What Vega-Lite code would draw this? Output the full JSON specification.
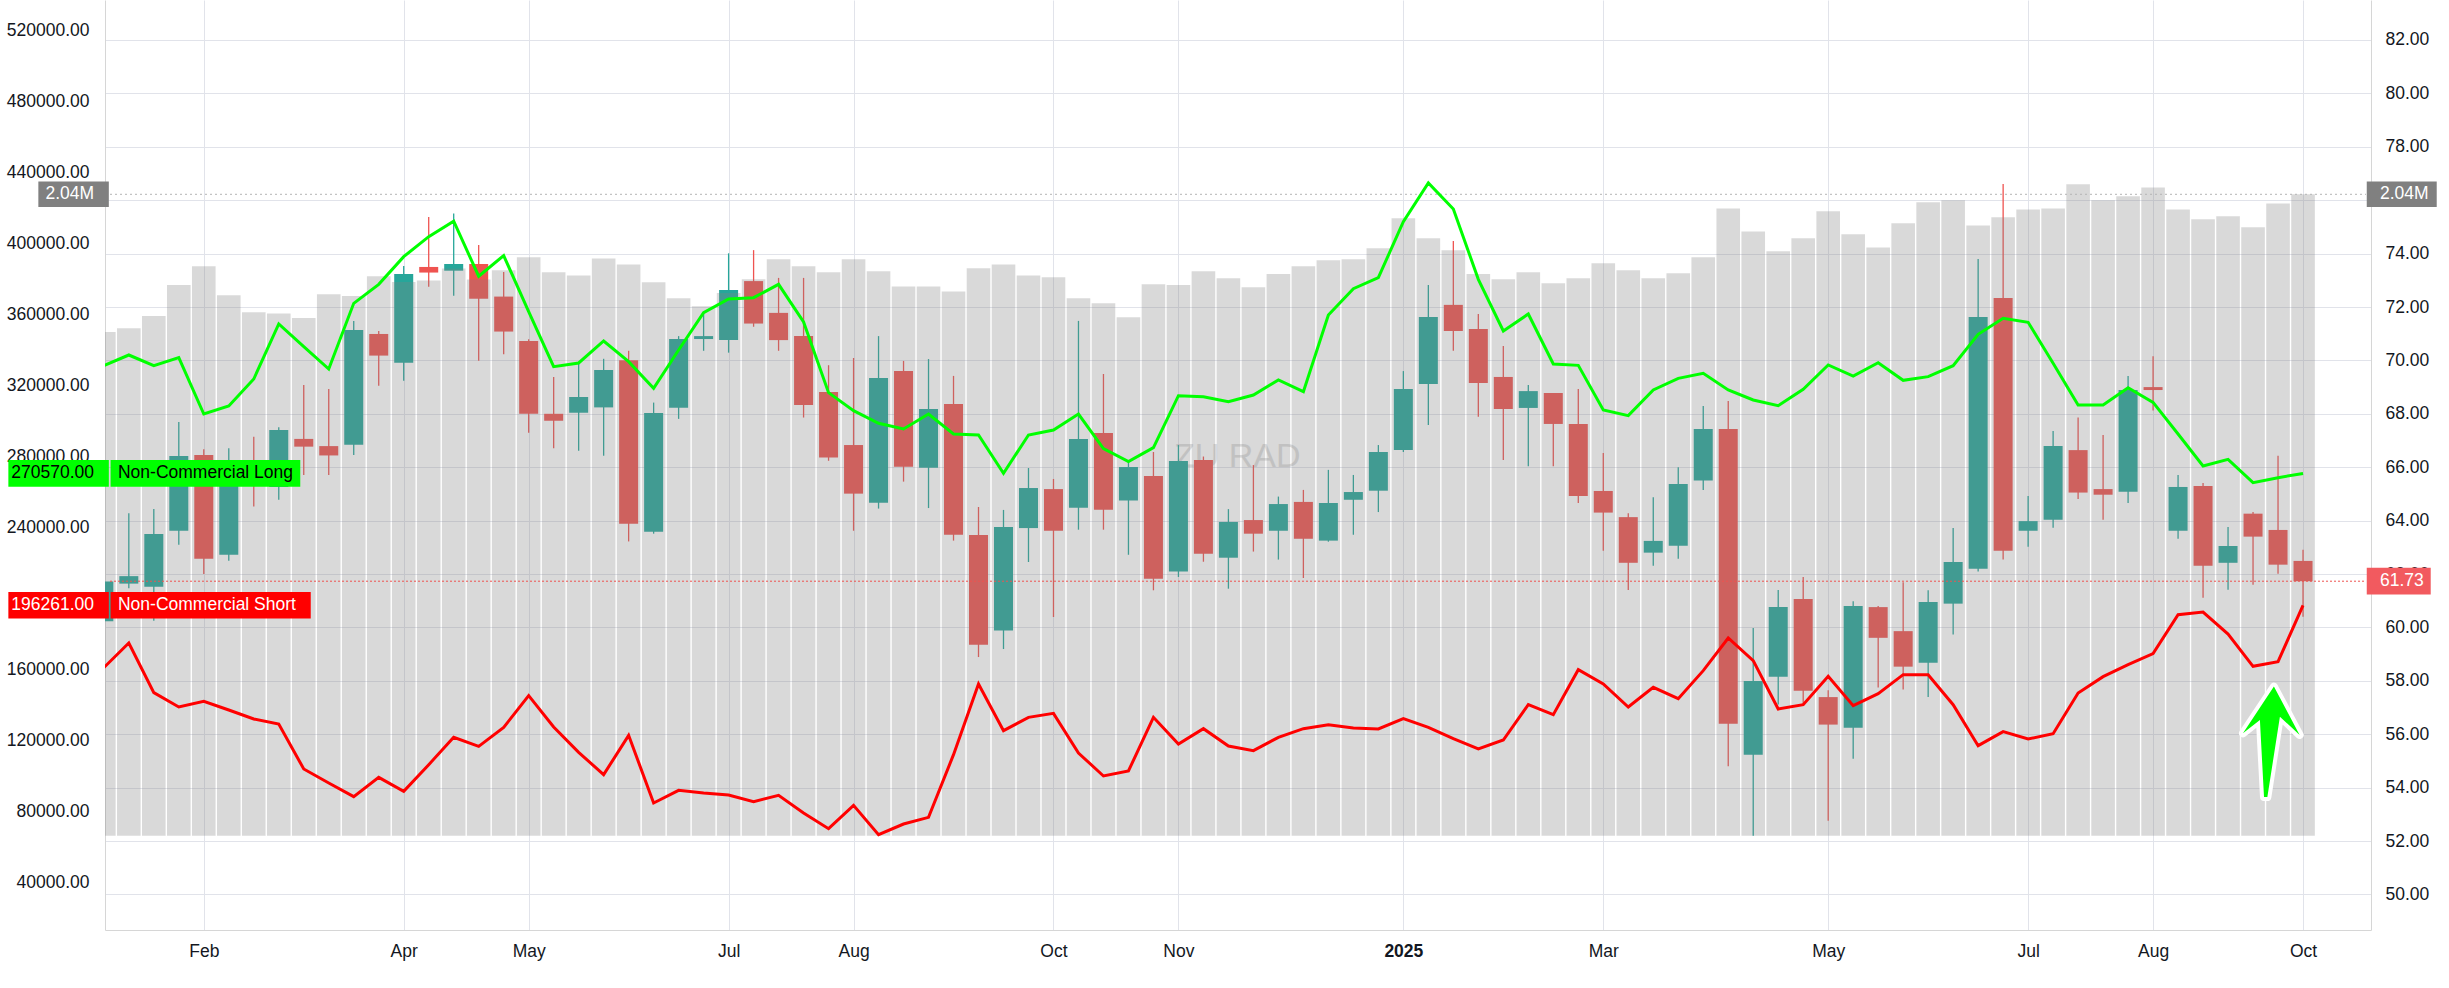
{
  "$schema": "https://vega.github.io/schema/vega-lite/v6.json",
  "width": 2266,
  "height": 930,
  "autosize": {"type": "none"},
  "padding": {"left": 105, "top": 0, "right": 78, "bottom": 58},
  "background": "white",
  "config": {
    "view": {"stroke": null},
    "font": "Liberation Sans",
    "axis": {"labelFont": "Liberation Sans", "labelFontSize": 17.5, "labelColor": "#131722", "ticks": false, "domainColor": "#d6d6d6", "gridColor": "#e1e3ea", "title": null}
  },
  "datasets": {
    "bars": [
      {"i":0,"o":60.23,"h":61.9,"l":60.1,"c":61.72,"oi":1603000,"long":331279,"short":161133},
      {"i":1,"o":61.64,"h":64.28,"l":61.47,"c":61.92,"oi":1615000,"long":337289,"short":175030},
      {"i":2,"o":61.52,"h":64.43,"l":60.25,"c":63.5,"oi":1654000,"long":331279,"short":147048},
      {"i":3,"o":63.62,"h":67.69,"l":63.1,"c":66.42,"oi":1752000,"long":335787,"short":138972},
      {"i":4,"o":66.46,"h":66.67,"l":62.0,"c":62.57,"oi":1812000,"long":304048,"short":142165},
      {"i":5,"o":62.72,"h":66.71,"l":62.5,"c":65.64,"oi":1720000,"long":308556,"short":137282},
      {"i":6,"o":66.0,"h":67.14,"l":64.53,"c":65.6,"oi":1666000,"long":323767,"short":132212},
      {"i":7,"o":65.26,"h":67.5,"l":64.78,"c":67.39,"oi":1662000,"long":354754,"short":129395},
      {"i":8,"o":67.06,"h":69.08,"l":65.71,"c":66.77,"oi":1647000,"long":342066,"short":104041},
      {"i":9,"o":66.79,"h":68.93,"l":65.71,"c":66.44,"oi":1723000,"long":329397,"short":96155},
      {"i":10,"o":66.84,"h":71.48,"l":66.46,"c":71.14,"oi":1717000,"long":366398,"short":88455},
      {"i":11,"o":70.99,"h":71.1,"l":69.05,"c":70.18,"oi":1780000,"long":377102,"short":99349},
      {"i":12,"o":69.91,"h":73.54,"l":69.24,"c":73.24,"oi":1762000,"long":392690,"short":91461},
      {"i":13,"o":73.5,"h":75.37,"l":72.76,"c":73.29,"oi":1767000,"long":403958,"short":106483},
      {"i":14,"o":73.36,"h":75.5,"l":72.42,"c":73.61,"oi":1805000,"long":412657,"short":121883},
      {"i":15,"o":73.61,"h":74.32,"l":69.99,"c":72.31,"oi":1770000,"long":381671,"short":116812},
      {"i":16,"o":72.39,"h":73.31,"l":70.23,"c":71.08,"oi":1799000,"long":393316,"short":127517},
      {"i":17,"o":70.73,"h":70.79,"l":67.29,"c":68.0,"oi":1841000,"long":361703,"short":145358},
      {"i":18,"o":68.0,"h":69.38,"l":66.71,"c":67.74,"oi":1793000,"long":330716,"short":127705},
      {"i":19,"o":68.04,"h":69.91,"l":66.62,"c":68.63,"oi":1783000,"long":332782,"short":113432},
      {"i":20,"o":68.24,"h":70.06,"l":66.43,"c":69.64,"oi":1837000,"long":345177,"short":100849},
      {"i":21,"o":70.01,"h":70.36,"l":63.22,"c":63.88,"oi":1818000,"long":333533,"short":123010},
      {"i":22,"o":63.58,"h":68.42,"l":63.51,"c":68.03,"oi":1761000,"long":318509,"short":84886},
      {"i":23,"o":68.23,"h":70.91,"l":67.81,"c":70.8,"oi":1710000,"long":340106,"short":92023},
      {"i":24,"o":70.8,"h":71.76,"l":70.36,"c":70.91,"oi":1685000,"long":361140,"short":90520},
      {"i":25,"o":70.76,"h":74.01,"l":70.29,"c":72.64,"oi":1727000,"long":368840,"short":89394},
      {"i":26,"o":72.97,"h":74.13,"l":71.26,"c":71.38,"oi":1771000,"long":369589,"short":85638},
      {"i":27,"o":71.78,"h":73.09,"l":70.36,"c":70.76,"oi":1834000,"long":377102,"short":89206},
      {"i":28,"o":70.91,"h":73.09,"l":67.86,"c":68.33,"oi":1812000,"long":355881,"short":79252},
      {"i":29,"o":68.82,"h":69.82,"l":66.24,"c":66.36,"oi":1793000,"long":316068,"short":70426},
      {"i":30,"o":66.83,"h":70.09,"l":63.62,"c":65.01,"oi":1834000,"long":305927,"short":83572},
      {"i":31,"o":64.67,"h":70.91,"l":64.45,"c":69.34,"oi":1796000,"long":298790,"short":67045},
      {"i":32,"o":69.6,"h":69.98,"l":65.46,"c":66.02,"oi":1748000,"long":295598,"short":73055},
      {"i":33,"o":65.98,"h":70.05,"l":64.47,"c":68.18,"oi":1748000,"long":304048,"short":76811},
      {"i":34,"o":68.37,"h":69.42,"l":63.25,"c":63.47,"oi":1732000,"long":292780,"short":112117},
      {"i":35,"o":63.46,"h":64.51,"l":58.89,"c":59.35,"oi":1806000,"long":292217,"short":151931},
      {"i":36,"o":59.88,"h":64.4,"l":59.19,"c":63.76,"oi":1818000,"long":270620,"short":125639},
      {"i":37,"o":63.72,"h":65.97,"l":62.45,"c":65.22,"oi":1783000,"long":292217,"short":133151},
      {"i":38,"o":65.18,"h":65.56,"l":60.39,"c":63.62,"oi":1777000,"long":295034,"short":135404},
      {"i":39,"o":64.48,"h":71.48,"l":63.66,"c":67.06,"oi":1710000,"long":304048,"short":113056},
      {"i":40,"o":67.28,"h":69.49,"l":63.66,"c":64.41,"oi":1694000,"long":284517,"short":100098},
      {"i":41,"o":64.75,"h":66.27,"l":62.72,"c":66.01,"oi":1650000,"long":277193,"short":102915},
      {"i":42,"o":65.67,"h":66.57,"l":61.39,"c":61.82,"oi":1755000,"long":285080,"short":133151},
      {"i":43,"o":62.09,"h":66.83,"l":61.89,"c":66.23,"oi":1752000,"long":314377,"short":118127},
      {"i":44,"o":66.27,"h":66.4,"l":62.46,"c":62.76,"oi":1796000,"long":313814,"short":126766},
      {"i":45,"o":62.61,"h":64.43,"l":61.45,"c":63.95,"oi":1774000,"long":310997,"short":117000},
      {"i":46,"o":64.02,"h":66.08,"l":62.84,"c":63.51,"oi":1745000,"long":314753,"short":114371},
      {"i":47,"o":63.62,"h":64.9,"l":62.54,"c":64.62,"oi":1787000,"long":323204,"short":121883},
      {"i":48,"o":64.7,"h":65.15,"l":61.85,"c":63.32,"oi":1812000,"long":316631,"short":126766},
      {"i":49,"o":63.25,"h":65.9,"l":63.21,"c":64.66,"oi":1831000,"long":359825,"short":129019},
      {"i":50,"o":64.78,"h":65.71,"l":63.47,"c":65.07,"oi":1834000,"long":374661,"short":127141},
      {"i":51,"o":65.12,"h":66.83,"l":64.32,"c":66.57,"oi":1869000,"long":380858,"short":126578},
      {"i":52,"o":66.64,"h":69.6,"l":66.57,"c":68.93,"oi":1965000,"long":412409,"short":132400},
      {"i":53,"o":69.12,"h":72.82,"l":67.58,"c":71.63,"oi":1901000,"long":434194,"short":127517},
      {"i":54,"o":72.08,"h":74.47,"l":70.36,"c":71.1,"oi":1863000,"long":419546,"short":121132},
      {"i":55,"o":71.18,"h":71.74,"l":67.89,"c":69.15,"oi":1787000,"long":379920,"short":115310},
      {"i":56,"o":69.38,"h":70.54,"l":66.27,"c":68.18,"oi":1771000,"long":350811,"short":120381},
      {"i":57,"o":68.22,"h":69.08,"l":66.04,"c":68.85,"oi":1793000,"long":360389,"short":140287},
      {"i":58,"o":68.78,"h":68.78,"l":66.04,"c":67.62,"oi":1758000,"long":332218,"short":134653},
      {"i":59,"o":67.62,"h":68.93,"l":64.66,"c":64.92,"oi":1774000,"long":331467,"short":160006},
      {"i":60,"o":65.11,"h":66.53,"l":62.87,"c":64.3,"oi":1822000,"long":306302,"short":151931},
      {"i":61,"o":64.13,"h":64.28,"l":61.4,"c":62.42,"oi":1799000,"long":303110,"short":138972},
      {"i":62,"o":62.8,"h":64.87,"l":62.31,"c":63.24,"oi":1774000,"long":317570,"short":150052},
      {"i":63,"o":63.06,"h":66.0,"l":62.57,"c":65.37,"oi":1790000,"long":324143,"short":143667},
      {"i":64,"o":65.5,"h":68.29,"l":65.15,"c":67.43,"oi":1841000,"long":326960,"short":159442},
      {"i":65,"o":67.43,"h":68.48,"l":54.8,"c":56.39,"oi":1996000,"long":317570,"short":177847},
      {"i":66,"o":55.23,"h":59.98,"l":52.2,"c":57.99,"oi":1923000,"long":311936,"short":165076},
      {"i":67,"o":58.15,"h":61.4,"l":57.11,"c":60.76,"oi":1860000,"long":308743,"short":137845},
      {"i":68,"o":61.06,"h":61.89,"l":57.11,"c":57.63,"oi":1901000,"long":317946,"short":140287},
      {"i":69,"o":57.39,"h":57.65,"l":52.76,"c":56.36,"oi":1987000,"long":331655,"short":156250},
      {"i":70,"o":56.24,"h":60.98,"l":55.08,"c":60.8,"oi":1914000,"long":325458,"short":139723},
      {"i":71,"o":60.76,"h":60.8,"l":57.75,"c":59.61,"oi":1872000,"long":332970,"short":146483},
      {"i":72,"o":59.86,"h":61.69,"l":57.67,"c":58.53,"oi":1949000,"long":323016,"short":157189},
      {"i":73,"o":58.68,"h":61.39,"l":57.39,"c":60.95,"oi":2016000,"long":325082,"short":157189},
      {"i":74,"o":60.89,"h":63.72,"l":59.73,"c":62.45,"oi":2022000,"long":331279,"short":140287},
      {"i":75,"o":62.2,"h":73.8,"l":62.09,"c":71.63,"oi":1942000,"long":348933,"short":117188},
      {"i":76,"o":72.34,"h":76.61,"l":62.54,"c":62.87,"oi":1968000,"long":357947,"short":125075},
      {"i":77,"o":63.62,"h":64.92,"l":63.02,"c":63.98,"oi":1993000,"long":355694,"short":120944},
      {"i":78,"o":64.03,"h":67.36,"l":63.73,"c":66.79,"oi":1996000,"long":332594,"short":123948},
      {"i":79,"o":66.64,"h":67.86,"l":64.81,"c":65.05,"oi":2073000,"long":309121,"short":146860},
      {"i":80,"o":65.18,"h":67.21,"l":64.03,"c":64.97,"oi":2022000,"long":309121,"short":156062},
      {"i":81,"o":65.08,"h":69.42,"l":64.66,"c":68.89,"oi":2035000,"long":318886,"short":162823},
      {"i":82,"o":69.0,"h":70.16,"l":68.12,"c":68.89,"oi":2063000,"long":310622,"short":169020},
      {"i":83,"o":63.62,"h":65.71,"l":63.32,"c":65.26,"oi":1993000,"long":292780,"short":190993},
      {"i":84,"o":65.3,"h":65.41,"l":61.11,"c":62.31,"oi":1962000,"long":274752,"short":192495},
      {"i":85,"o":62.42,"h":63.76,"l":61.41,"c":63.05,"oi":1971000,"long":278508,"short":180100},
      {"i":86,"o":64.26,"h":64.32,"l":61.6,"c":63.4,"oi":1936000,"long":265362,"short":161884},
      {"i":87,"o":63.65,"h":66.43,"l":62.01,"c":62.35,"oi":2012000,"long":268179,"short":164514},
      {"i":88,"o":62.49,"h":62.91,"l":60.4,"c":61.73,"oi":2041000,"long":270570,"short":196261}
    ]
  },
  "data": {"name": "bars"},
  "encoding": {
    "x": {
      "field": "i",
      "type": "quantitative",
      "scale": {"domain": [0.247, 90.52], "nice": false, "zero": false},
      "axis": {
        "values": [4, 12, 17, 25, 30, 38, 43, 52, 60, 69, 77, 82, 88],
        "labelExpr": "['Feb','Apr','May','Jul','Aug','Oct','Nov','2025','Mar','May','Jul','Aug','Oct'][indexof([4,12,17,25,30,38,43,52,60,69,77,82,88], datum.value)]",
        "grid": true,
        "labelPadding": 12,
        "labelFlush": false,
        "labelOverlap": false,
        "labelFontWeight": {"condition": {"test": "datum.value == 52", "value": "bold"}, "value": "normal"}
      }
    }
  },
  "layer": [
    {
      "transform": [{"filter": "datum.i == 88"}],
      "mark": {"type": "text", "text": "ZU RAD", "fontSize": 34, "color": "#a0a0a0", "opacity": 0.35, "align": "center", "baseline": "middle"},
      "encoding": {
        "x": {"datum": 45.35, "type": "quantitative"},
        "y": {"datum": 66.38, "type": "quantitative", "scale": {"domain": [48.667, 83.498], "nice": false, "zero": false}, "axis": null}
      }
    },
    {
      "mark": {"type": "rule", "strokeWidth": 1.3, "clip": true},
      "encoding": {
        "y": {"field": "l", "type": "quantitative", "scale": {"domain": [48.667, 83.498], "nice": false, "zero": false},
          "axis": {"orient": "right", "values": [50,52,54,56,58,60,62,64,66,68,70,72,74,76,78,80,82], "format": ".2f", "labelExpr": "datum.value == 76 ? '' : datum.label", "grid": true, "labelPadding": 14}},
        "y2": {"field": "h"},
        "color": {"condition": {"test": "datum.c >= datum.o", "value": "#26a69a"}, "value": "#ef5350"}
      }
    },
    {
      "mark": {"type": "bar", "width": 19, "clip": true},
      "encoding": {
        "y": {"field": "o", "type": "quantitative", "scale": {"domain": [48.667, 83.498], "nice": false, "zero": false}, "axis": null},
        "y2": {"field": "c"},
        "color": {"condition": {"test": "datum.c >= datum.o", "value": "#26a69a"}, "value": "#ef5350"}
      }
    },
    {
      "mark": {"type": "bar", "width": 23.6, "clip": true, "color": "#808080", "opacity": 0.3},
      "encoding": {
        "y": {"field": "oi", "type": "quantitative", "scale": {"domain": [-300070, 2659293], "nice": false, "zero": false}, "axis": null},
        "y2": {"datum": 0}
      }
    },
    {
      "transform": [{"filter": "datum.i == 88"}],
      "mark": {"type": "rule", "color": "#b5b5b5", "strokeDash": [2, 3], "strokeWidth": 1},
      "encoding": {
        "x": {"datum": 0.247, "type": "quantitative"},
        "x2": {"datum": 90.52},
        "y": {"field": "oi", "type": "quantitative", "scale": {"domain": [-300070, 2659293], "nice": false, "zero": false}, "axis": null}
      }
    },
    {
      "transform": [{"filter": "datum.i == 88"}],
      "mark": {"type": "rule", "color": "#ef5350", "strokeDash": [2, 2], "strokeWidth": 1},
      "encoding": {
        "x": {"datum": 0.247, "type": "quantitative"},
        "x2": {"datum": 90.52},
        "y": {"field": "c", "type": "quantitative", "scale": {"domain": [48.667, 83.498], "nice": false, "zero": false}, "axis": null}
      }
    },
    {
      "mark": {"type": "line", "color": "#00ff00", "strokeWidth": 3, "clip": true},
      "encoding": {
        "y": {"field": "long", "type": "quantitative", "scale": {"domain": [13334, 537296], "nice": false, "zero": false},
          "axis": {"orient": "left", "values": [40000,80000,120000,160000,240000,280000,320000,360000,400000,440000,480000,520000], "format": ".2f", "grid": false, "labelPadding": 16}}
      }
    },
    {
      "mark": {"type": "line", "color": "#ff0000", "strokeWidth": 3, "clip": true},
      "encoding": {
        "y": {"field": "short", "type": "quantitative", "scale": {"domain": [13334, 537296], "nice": false, "zero": false}, "axis": null}
      }
    },
    {
      "transform": [{"filter": "datum.i == 88"}],
      "layer": [
        {
          "mark": {"type": "rule", "color": "#00ff00", "strokeWidth": 26.7},
          "encoding": {"x": {"datum": -3.82, "type": "quantitative"}, "x2": {"datum": 0.2},
            "y": {"field": "long", "type": "quantitative", "scale": {"domain": [13334, 537296], "nice": false, "zero": false}, "axis": null}}
        },
        {
          "mark": {"type": "rule", "color": "#00ff00", "strokeWidth": 26.7},
          "encoding": {"x": {"datum": 0.27, "type": "quantitative"}, "x2": {"datum": 7.86},
            "y": {"field": "long", "type": "quantitative", "scale": {"domain": [13334, 537296], "nice": false, "zero": false}, "axis": null}}
        },
        {
          "mark": {"type": "rule", "color": "#ff0000", "strokeWidth": 26.4},
          "encoding": {"x": {"datum": -3.82, "type": "quantitative"}, "x2": {"datum": 0.2},
            "y": {"field": "short", "type": "quantitative", "scale": {"domain": [13334, 537296], "nice": false, "zero": false}, "axis": null}}
        },
        {
          "mark": {"type": "rule", "color": "#ff0000", "strokeWidth": 26.4},
          "encoding": {"x": {"datum": 0.27, "type": "quantitative"}, "x2": {"datum": 8.28},
            "y": {"field": "short", "type": "quantitative", "scale": {"domain": [13334, 537296], "nice": false, "zero": false}, "axis": null}}
        },
        {
          "mark": {"type": "text", "align": "right", "baseline": "middle", "fontSize": 17.5, "color": "#000000"},
          "encoding": {"x": {"datum": -0.39, "type": "quantitative"}, "text": {"field": "long", "format": ".2f"},
            "y": {"field": "long", "type": "quantitative", "scale": {"domain": [13334, 537296], "nice": false, "zero": false}, "axis": null}}
        },
        {
          "mark": {"type": "text", "align": "left", "baseline": "middle", "fontSize": 17.5, "color": "#000000", "text": "Non-Commercial Long"},
          "encoding": {"x": {"datum": 0.566, "type": "quantitative"},
            "y": {"field": "long", "type": "quantitative", "scale": {"domain": [13334, 537296], "nice": false, "zero": false}, "axis": null}}
        },
        {
          "mark": {"type": "text", "align": "right", "baseline": "middle", "fontSize": 17.5, "color": "#ffffff"},
          "encoding": {"x": {"datum": -0.39, "type": "quantitative"}, "text": {"field": "short", "format": ".2f"},
            "y": {"field": "short", "type": "quantitative", "scale": {"domain": [13334, 537296], "nice": false, "zero": false}, "axis": null}}
        },
        {
          "mark": {"type": "text", "align": "left", "baseline": "middle", "fontSize": 17.5, "color": "#ffffff", "text": "Non-Commercial Short"},
          "encoding": {"x": {"datum": 0.566, "type": "quantitative"},
            "y": {"field": "short", "type": "quantitative", "scale": {"domain": [13334, 537296], "nice": false, "zero": false}, "axis": null}}
        }
      ],
      "resolve": {"scale": {"y": "shared"}}
    },
    {
      "transform": [{"filter": "datum.i == 88"}],
      "layer": [
        {
          "mark": {"type": "rule", "color": "#808080", "strokeWidth": 25.6},
          "encoding": {"x": {"datum": -2.62, "type": "quantitative"}, "x2": {"datum": 0.2},
            "y": {"field": "oi", "type": "quantitative", "scale": {"domain": [-300070, 2659293], "nice": false, "zero": false}, "axis": null}}
        },
        {
          "mark": {"type": "rule", "color": "#808080", "strokeWidth": 25.6},
          "encoding": {"x": {"datum": 90.55, "type": "quantitative"}, "x2": {"datum": 93.35},
            "y": {"field": "oi", "type": "quantitative", "scale": {"domain": [-300070, 2659293], "nice": false, "zero": false}, "axis": null}}
        },
        {
          "mark": {"type": "text", "align": "right", "baseline": "middle", "fontSize": 17.5, "color": "#ffffff"},
          "encoding": {"x": {"datum": -0.39, "type": "quantitative"}, "text": {"field": "oi", "format": ".3s"},
            "y": {"field": "oi", "type": "quantitative", "scale": {"domain": [-300070, 2659293], "nice": false, "zero": false}, "axis": null}}
        },
        {
          "mark": {"type": "text", "align": "left", "baseline": "middle", "fontSize": 17.5, "color": "#ffffff"},
          "encoding": {"x": {"datum": 91.08, "type": "quantitative"}, "text": {"field": "oi", "format": ".3s"},
            "y": {"field": "oi", "type": "quantitative", "scale": {"domain": [-300070, 2659293], "nice": false, "zero": false}, "axis": null}}
        }
      ],
      "resolve": {"scale": {"y": "shared"}}
    },
    {
      "transform": [{"filter": "datum.i == 88"}],
      "layer": [
        {
          "mark": {"type": "rule", "color": "#f25a5f", "strokeWidth": 26.7},
          "encoding": {"x": {"datum": 90.55, "type": "quantitative"}, "x2": {"datum": 93.11},
            "y": {"field": "c", "type": "quantitative", "scale": {"domain": [48.667, 83.498], "nice": false, "zero": false}, "axis": null}}
        },
        {
          "mark": {"type": "text", "align": "left", "baseline": "middle", "fontSize": 17.5, "color": "#ffffff"},
          "encoding": {"x": {"datum": 91.08, "type": "quantitative"}, "text": {"field": "c", "format": ".2f"},
            "y": {"field": "c", "type": "quantitative", "scale": {"domain": [48.667, 83.498], "nice": false, "zero": false}, "axis": null}}
        },
        {
          "mark": {"type": "point", "shape": "M0.047,-0.988 L0.506,-0.125 L0.154,-0.452 L-0.07,0.985 L-0.13,0.985 L-0.203,-0.393 L-0.506,-0.155 Z", "size": 12544, "filled": true, "fill": "#ffffff", "stroke": "#ffffff", "strokeWidth": 8, "strokeJoin": "round", "opacity": 1},
          "encoding": {"x": {"datum": 86.73, "type": "quantitative"},
            "y": {"datum": 55.71, "type": "quantitative", "scale": {"domain": [48.667, 83.498], "nice": false, "zero": false}, "axis": null}}
        },
        {
          "mark": {"type": "point", "shape": "M0.047,-0.988 L0.506,-0.125 L0.154,-0.452 L-0.07,0.985 L-0.13,0.985 L-0.203,-0.393 L-0.506,-0.155 Z", "size": 12544, "filled": true, "fill": "#00ff00", "strokeWidth": 0, "opacity": 1},
          "encoding": {"x": {"datum": 86.73, "type": "quantitative"},
            "y": {"datum": 55.71, "type": "quantitative", "scale": {"domain": [48.667, 83.498], "nice": false, "zero": false}, "axis": null}}
        }
      ],
      "resolve": {"scale": {"y": "shared"}}
    }
  ],
  "resolve": {"scale": {"y": "independent"}}
}
